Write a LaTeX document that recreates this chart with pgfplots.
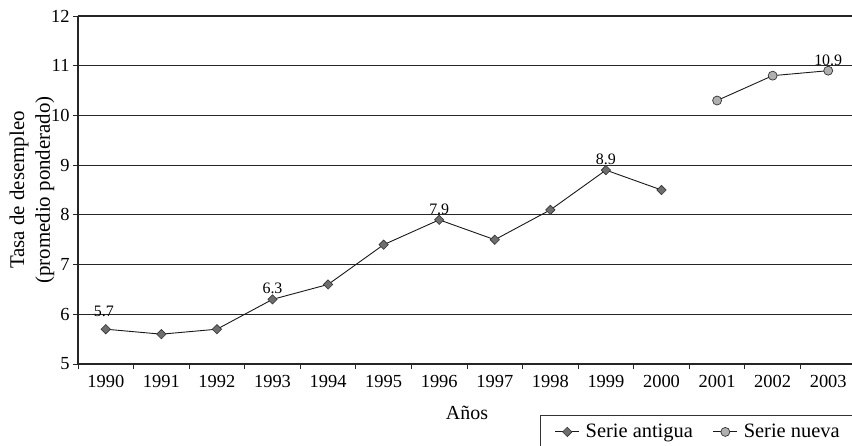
\documentclass[border=0pt]{standalone}
\usepackage{fontspec}
\setmainfont{Liberation Serif}
\usepackage{pgfplots}
\pgfplotsset{compat=1.18}
\definecolor{oldfill}{RGB}{110,110,110}
\definecolor{newfill}{RGB}{175,175,175}
\begin{document}
\begin{tikzpicture}
\begin{axis}[
  name=ax,
  scale only axis, width=778bp, height=348bp,
  xmin=-0.5, xmax=13.5, ymin=5, ymax=12,
  axis x line*=bottom, axis y line*=left,
  axis line style={line width=1.3pt, color=black!85},
  xtick={-0.5,0.5,...,13.5},
  x tick label as interval,
  xticklabels={1990,1991,1992,1993,1994,1995,1996,1997,1998,1999,2000,2001,2002,2003},
  ytick={5,6,...,12},
  tick align=outside,
  major tick length=5bp,
  tick style={line width=0.9pt, color=black!85},
  ymajorgrids,
  grid style={black!85, line width=0.8pt},
  tick label style={font=\fontsize{18.5}{18.5}\selectfont},
  xticklabel style={yshift=-3bp},
  /pgf/number format/assume math mode=true,
  xlabel={Años},
  xlabel style={font=\fontsize{20}{20}\selectfont, at={(axis description cs:0.5,0)}, anchor=center, yshift=-49bp},
  ylabel={Tasa de desempleo\\(promedio ponderado)},
  ylabel style={font=\fontsize{21}{26}\selectfont, align=center, at={(axis description cs:0,0.5)}, anchor=center, yshift=46bp},
  legend columns=2,
  legend style={at={(1,-0.1466)}, anchor=north east, draw=black!80, line width=0.8pt,
    font=\fontsize{20.5}{20.5}\selectfont, inner xsep=14bp, inner ysep=7bp,
    /tikz/every odd column/.append style={column sep=4bp},
    /tikz/every even column/.append style={column sep=18bp}},
  legend image code/.code={\draw[mark repeat=2,mark phase=2] plot coordinates {(0bp,0bp)(12bp,0bp)(24bp,0bp)};},
  clip=false,
]
\addplot[black!90, line width=0.9pt, mark=square*, mark size=3.3bp,
  mark options={rotate=45, fill=oldfill, draw=black!80, line width=0.6pt}]
  coordinates {(0,5.7) (1,5.6) (2,5.7) (3,6.3) (4,6.6) (5,7.4) (6,7.9) (7,7.5) (8,8.1) (9,8.9) (10,8.5)};
\addlegendentry{Serie antigua}
\addplot[black!90, line width=0.9pt, mark=*, mark size=4.5bp,
  mark options={fill=newfill, draw=black!80, line width=0.7pt}]
  coordinates {(11,10.3) (12,10.8) (13,10.9)};
\addlegendentry{Serie nueva}
\addplot[draw=none, forget plot, nodes near coords, point meta=explicit symbolic,
  every node near coord/.style={font=\fontsize{16}{16}\selectfont, anchor=south, yshift=3bp, inner sep=2bp}]
  coordinates {(3,6.3) [6.3] (6,7.9) [7.9] (9,8.9) [8.9] (13,10.9) [10.9]};
\addplot[draw=none, forget plot, nodes near coords, point meta=explicit symbolic,
  every node near coord/.style={font=\fontsize{16}{16}\selectfont, anchor=south, yshift=10bp, xshift=-2bp, inner sep=2bp}]
  coordinates {(0,5.7) [5.7]};
\draw[line width=1.3pt, black!85] (axis cs:-0.5,12) -- (axis cs:13.5,12);
\end{axis}
\pgfresetboundingbox
\useasboundingbox ([xshift=-78bp,yshift=-82bp]ax.south west) rectangle ([xshift=774bp,yshift=364bp]ax.south west);
\end{tikzpicture}
\end{document}
